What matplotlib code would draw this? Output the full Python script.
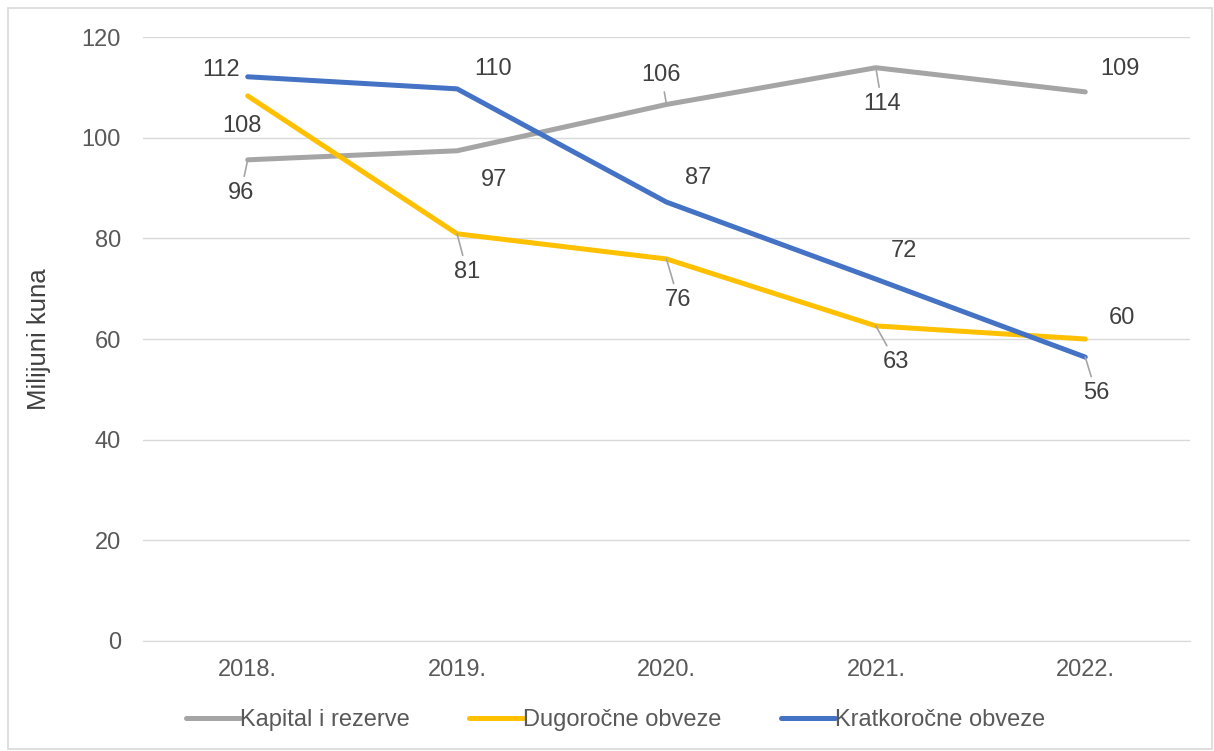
import matplotlib.pyplot as plt
from matplotlib.patches import Rectangle

plt.rcParams['font.family'] = ['Liberation Sans', 'DejaVu Sans']

# Data
years = ['2018.', '2019.', '2020.', '2021.', '2022.']
kapital = [95.6, 97.4, 106.6, 113.9, 109.1]
dugorocne = [108.3, 80.9, 75.9, 62.6, 60.0]
kratkorocne = [112.1, 109.7, 87.2, 71.9, 56.4]

kapital_labels = ['96', '97', '106', '114', '109']
dugorocne_labels = ['108', '81', '76', '63', '60']
kratkorocne_labels = ['112', '110', '87', '72', '56']

# label offsets in pixels (dx, dy) and whether a leader line is drawn
kapital_off = [((-7, -33), True), ((37, -29), False), ((-5, 29), True), ((6, -36), True), ((35, 23), False)]
dugorocne_off = [((-6, -30), False), ((10, -38), True), ((12, -41), True), ((20, -36), True), ((37, 21), False)]
kratkorocne_off = [((-27, 7), False), ((36, 20), False), ((32, 24), False), ((28, 28), False), ((11, -36), True)]

colors = {'kap': '#A5A5A5', 'dug': '#FFC000', 'krat': '#4472C4'}
text_col = '#404040'

fig = plt.figure(figsize=(12.14, 7.51), dpi=100)
ax = fig.add_axes([0.1178, 0.1465, 0.8624, 0.8042])

fig.patches.append(Rectangle((0.007, 0.003), 0.991, 0.986, transform=fig.transFigure,
                             fill=False, edgecolor='#d9d9d9', linewidth=1.2))

x = list(range(len(years)))
series = [
    (kapital, kapital_labels, kapital_off, colors['kap'], 'Kapital i rezerve'),
    (dugorocne, dugorocne_labels, dugorocne_off, colors['dug'], 'Dugoročne obveze'),
    (kratkorocne, kratkorocne_labels, kratkorocne_off, colors['krat'], 'Kratkoročne obveze'),
]

for vals, labs, offs, col, name in series:
    ax.plot(x, vals, color=col, linewidth=3.6, solid_capstyle='round', label=name, zorder=3)
    for xi, v, lab, (off, leader) in zip(x, vals, labs, offs):
        ap = None
        if leader:
            ap = dict(arrowstyle='-', color='#A5A5A5', lw=1.2, shrinkA=2, shrinkB=0)
        ax.annotate(lab, (xi, v), xytext=off, textcoords='offset pixels',
                    ha='center', va='center', fontsize=17, color=text_col,
                    arrowprops=ap, zorder=4)

ax.set_xlim(-0.5, 4.5)
ax.set_ylim(0, 120)
ax.set_yticks([0, 20, 40, 60, 80, 100, 120])
ax.set_xticks(x)
ax.set_xticklabels(years)
ax.tick_params(axis='both', length=0, labelsize=17, labelcolor='#595959')
ax.tick_params(axis='y', pad=16)
ax.tick_params(axis='x', pad=13)
ax.grid(axis='y', color='#d9d9d9', linewidth=1.0)
ax.set_axisbelow(True)
for s in ['top', 'right', 'left']:
    ax.spines[s].set_visible(False)
ax.spines['bottom'].set_color('#d9d9d9')

ax.set_ylabel('Milijuni kuna', fontsize=18.5, color=text_col, labelpad=22)

leg = fig.legend(loc='center', bbox_to_anchor=(0.507, 0.041), ncol=3, frameon=False,
                 fontsize=17, handlelength=2.3, handletextpad=0.0, columnspacing=2.5)
for t in leg.get_texts():
    t.set_color('#595959')

fig.savefig('out.png', dpi=100)
